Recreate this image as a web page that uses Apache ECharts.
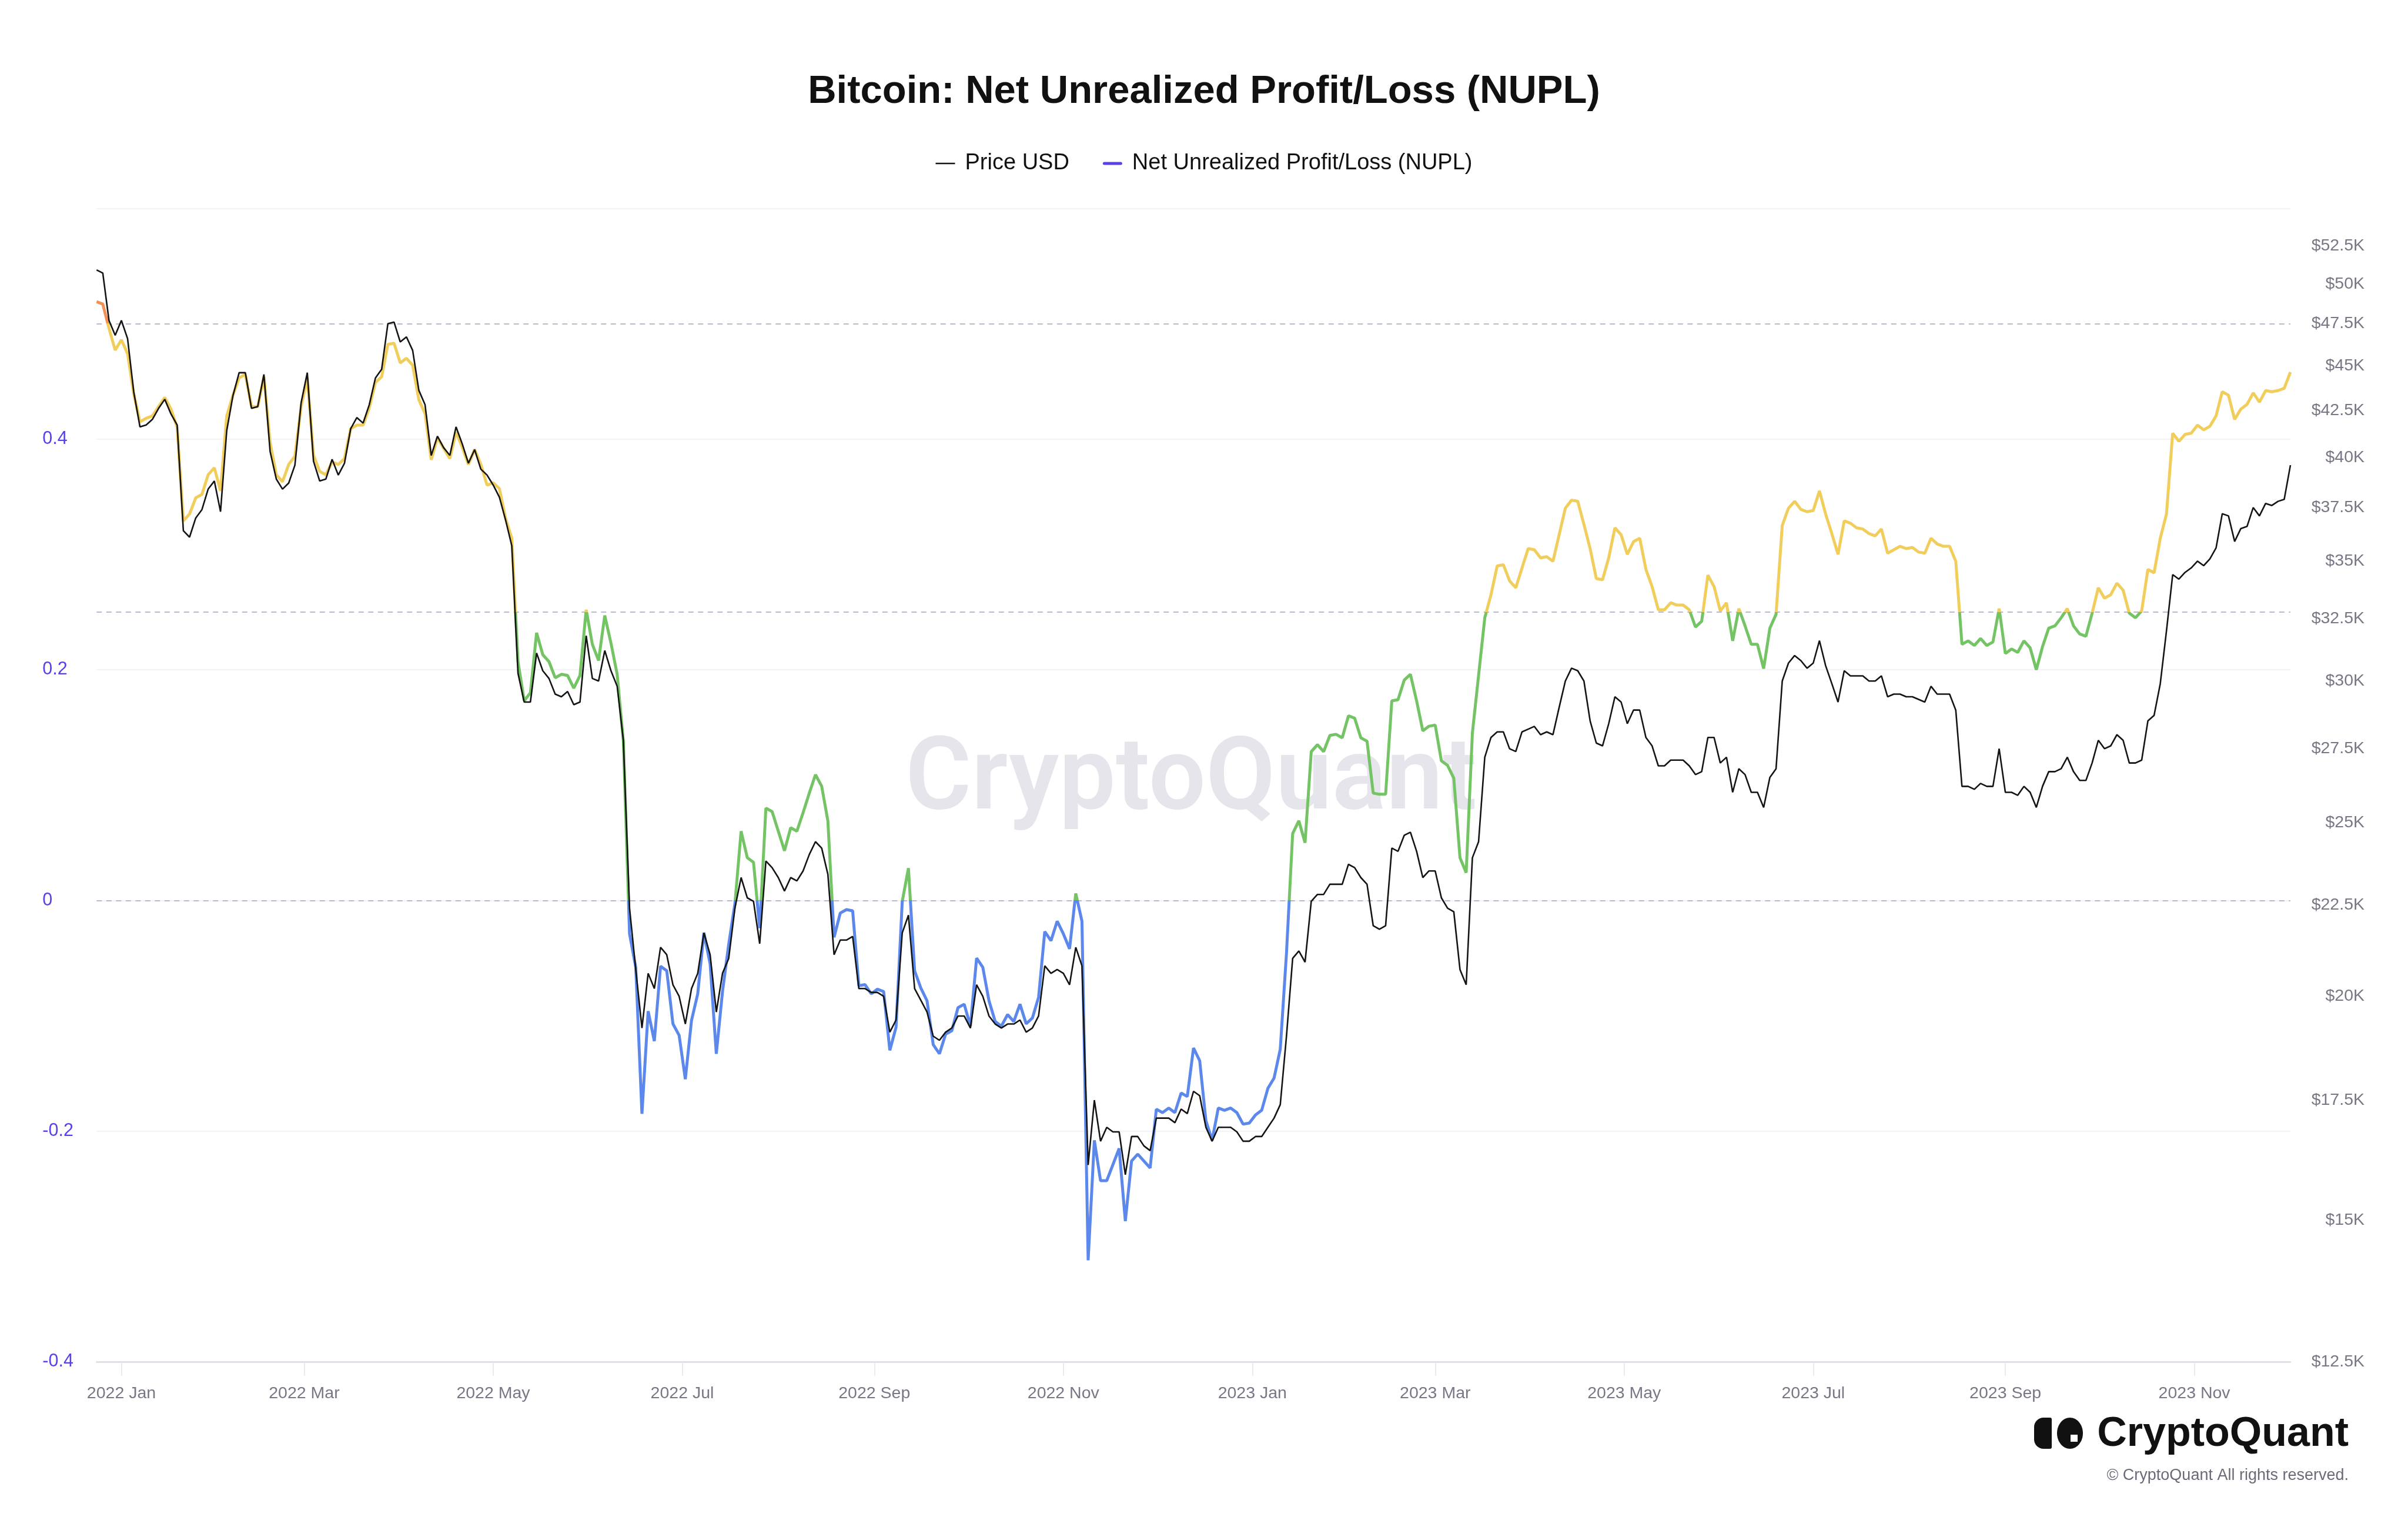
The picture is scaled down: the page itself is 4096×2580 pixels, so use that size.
<!DOCTYPE html>
<html><head><meta charset="utf-8">
<script src="https://cdn.jsdelivr.net/npm/echarts@6/dist/echarts.min.js"></script>
<style>html,body{margin:0;padding:0;background:#fff}#c{width:4096px;height:2580px}</style>
</head><body><div id="c"></div>
<script>
// ---- data (sampled every 2 days from 2021-12-24 to 2023-12-02) ----
const firstDay = [2021, 11, 24];
const stepDays = 2;
const priceUSD = [
50900,50700,47700,46800,47700,46600,43500,41600,41700,42000,42600,43100,42300,41700,36400,36100,37000,37400,38400,38800,
37300,41400,43300,44600,44600,42600,42700,44500,40300,38900,38400,38700,39600,42900,44600,39800,38800,38900,39900,39100,
39700,41500,42100,41800,42800,44300,44800,47500,47600,46400,46700,45900,43600,42800,40100,41100,40500,40100,41600,40700,
39700,
40400,39400,39100,38600,38000,36900,35700,30300,29200,29200,31100,30400,30100,29500,29400,29600,29100,29200,31800,30100,
30000,31200,30400,29800,27800,22400,20700,19200,20600,20200,21300,21100,20300,20000,19300,20200,20600,21700,21100,19600,
20600,21000,22400,23300,22700,22600,21400,23800,23600,23300,22900,23300,23200,23500,24000,24400,24200,23400,21100,21500,
21500,21600,20200,20200,20100,20100,20000,19100,19400,21700,22200,20200,19900,19600,19000,18900,19100,19200,19500,19500,
19200,20300,20000,19500,19300,19200,19300,19300,19400,19100,19200,19500,20800,20600,20700,20600,20300,21300,20800,16100,
17500,16600,16900,16800,16800,15900,16700,16700,16500,16400,17100,17100,17100,17000,17300,17200,17700,17600,16900,16600,
16900,16900,16900,16800,16600,16600,16700,16700,16900,17100,17400,19000,21000,21200,20900,22600,22800,22800,23100,23100,
23100,23700,23600,23300,23100,21900,21800,21900,24200,24100,24600,24700,24100,23300,23500,23500,22700,22400,22300,20700,
20300,23900,24400,27200,27900,28100,28100,27500,27400,28100,28200,28300,28000,28100,28000,29000,30000,30500,30400,
30000,28500,27700,27600,28400,29400,29200,28400,28900,28900,27900,27600,26900,26900,27100,27100,27100,26900,26600,26700,
27900,27900,27000,27200,26000,26800,26600,26000,26000,25500,26500,26800,30000,30700,31000,30800,30500,30700,31600,30600,
29900,29200,30400,30200,30200,30200,30000,30000,30200,29400,29500,29500,29400,29400,29300,29200,29800,29500,29500,29500,
28900,26200,26200,26100,26300,26200,26200,27500,26000,26000,25900,26200,26000,25500,26200,26700,26700,26800,27200,26700,
26400,26400,27000,27800,27500,27600,28000,27800,27000,27000,27100,28500,28700,29900,32000,34400,34200,34500,34700,35000,
34800,35100,35600,37200,37100,35900,36500,36600,37500,37100,37700,37600,37800,37900,39600
];
const nupl = [
0.519,0.517,0.496,0.477,0.486,0.474,0.439,0.415,0.418,0.420,0.428,0.436,0.426,0.410,0.329,0.335,0.349,0.352,0.369,0.375,
0.355,0.420,0.438,0.453,0.456,0.428,0.428,0.454,0.397,0.369,0.363,0.378,0.385,0.428,0.453,0.386,0.372,0.369,0.380,0.378,
0.383,0.409,0.412,0.412,0.427,0.449,0.454,0.482,0.483,0.466,0.470,0.464,0.434,0.422,0.382,0.401,0.392,0.383,0.406,0.393,
0.378,
0.391,0.378,0.360,0.362,0.357,0.331,0.314,0.207,0.173,0.180,0.232,0.213,0.207,0.193,0.196,0.195,0.184,0.195,0.252,0.222,
0.208,0.247,0.223,0.196,0.138,-0.029,-0.058,-0.185,-0.096,-0.122,-0.057,-0.061,-0.107,-0.117,-0.155,-0.104,-0.081,-0.028,-0.055,-0.133,
-0.079,-0.038,-0.003,0.060,0.037,0.033,-0.024,0.080,0.077,0.060,0.043,0.063,0.060,0.076,0.093,0.109,0.099,0.069,-0.032,-0.011,
-0.008,-0.009,-0.074,-0.073,-0.081,-0.077,-0.079,-0.130,-0.110,-0.001,0.028,-0.061,-0.076,-0.087,-0.125,-0.133,-0.116,-0.113,-0.093,-0.090,
-0.109,-0.050,-0.058,-0.087,-0.105,-0.109,-0.099,-0.105,-0.090,-0.107,-0.102,-0.084,-0.027,-0.035,-0.018,-0.029,-0.042,0.006,-0.018,-0.312,
-0.208,-0.243,-0.243,-0.229,-0.215,-0.278,-0.226,-0.220,-0.226,-0.232,-0.181,-0.184,-0.180,-0.184,-0.167,-0.170,-0.128,-0.139,-0.191,-0.208,
-0.180,-0.182,-0.180,-0.184,-0.194,-0.193,-0.186,-0.182,-0.163,-0.154,-0.129,-0.046,0.058,0.069,0.050,0.129,0.135,0.129,0.143,0.144,
0.141,0.160,0.158,0.141,0.138,0.093,0.092,0.092,0.173,0.174,0.191,0.196,0.173,0.147,0.151,0.152,0.121,0.117,0.106,0.037,
0.024,0.145,0.195,0.245,0.265,0.290,0.291,0.277,0.271,0.288,0.305,0.304,0.297,0.298,0.294,0.317,0.340,0.347,0.346,
0.326,0.305,0.279,0.278,0.297,0.323,0.317,0.300,0.311,0.314,0.287,0.272,0.252,0.252,0.258,0.256,0.256,0.252,0.237,0.242,
0.282,0.272,0.251,0.258,0.225,0.253,0.238,0.222,0.222,0.201,0.236,0.248,0.325,0.340,0.346,0.339,0.337,0.338,0.355,0.335,
0.318,0.300,0.329,0.327,0.323,0.322,0.318,0.316,0.322,0.301,0.304,0.307,0.305,0.306,0.302,0.301,0.314,0.309,0.307,0.307,
0.294,0.222,0.225,0.221,0.227,0.221,0.224,0.253,0.214,0.218,0.215,0.225,0.219,0.200,0.220,0.236,0.238,0.245,0.253,0.238,
0.231,0.229,0.249,0.271,0.262,0.265,0.275,0.269,0.249,0.245,0.251,0.287,0.284,0.314,0.335,0.405,0.398,0.404,0.405,0.412,
0.408,0.411,0.420,0.441,0.438,0.417,0.426,0.430,0.440,0.432,0.442,0.441,0.442,0.444,0.458
];
const priceTicks = [12500,15000,17500,20000,22500,25000,27500,30000,32500,35000,37500,40000,42500,45000,47500,50000,52500];
const monthTicks = ['2022-01','2022-03','2022-05','2022-07','2022-09','2022-11','2023-01','2023-03','2023-05','2023-07','2023-09','2023-11'];
const nuplLevels = [0.5, 0.25, 0];
const monthNames = ['Jan','Feb','Mar','Apr','May','Jun','Jul','Aug','Sep','Oct','Nov','Dec'];

// ---- build ----
const dates = priceUSD.map((_, i) => Date.UTC(firstDay[0], firstDay[1], firstDay[2] + stepDays * i));
const tickTs = monthTicks.map(s => Date.UTC(+s.slice(0, 4), +s.slice(5) - 1, 1));
const priceMin = 12500, priceMax = 55100;
const FONT = '"Liberation Sans", Arial, Helvetica, sans-serif';
const NUPL_COLOR = '#5641eb';

const chart = echarts.init(document.getElementById('c'), null, {renderer: 'canvas'});
chart.setOption({
  animation: false,
  backgroundColor: '#ffffff',
  textStyle: {fontFamily: FONT},
  title: {
    text: 'Bitcoin: Net Unrealized Profit/Loss (NUPL)',
    left: 'center', top: 118,
    textStyle: {fontSize: 67, fontWeight: 'bold', color: '#111111', fontFamily: FONT}
  },
  legend: {
    top: 254, left: 'center',
    itemWidth: 33, itemHeight: 12, itemGap: 57,
    symbolKeepAspect: true,
    textStyle: {fontSize: 38, color: '#111111', fontFamily: FONT, padding: [0, 0, 0, 12]},
    data: [
      {name: 'Price USD', icon: 'path://M0,0H33V2.6H0Z'},
      {name: 'Net Unrealized Profit/Loss (NUPL)', icon: 'path://M2.5,0H30.5A2.5,2.5,0,0,1,30.5,5H2.5A2.5,2.5,0,0,1,2.5,0Z'}
    ]
  },
  grid: {left: 164.3, right: 200, top: 354.3, bottom: 264, containLabel: false},
  visualMap: {
    type: 'piecewise', show: false, seriesIndex: 1, dimension: 1,
    pieces: [
      {lt: 0, color: '#5b88ea'},
      {gte: 0, lt: 0.25, color: '#74c365'},
      {gte: 0.25, lt: 0.5, color: '#f1cd5b'},
      {gte: 0.5, color: '#f39153'}
    ]
  },
  xAxis: {
    type: 'value', min: dates[0], max: dates[dates.length - 1],
    axisLine: {show: true, onZero: false, lineStyle: {color: '#dcdce6', width: 2.5}},
    axisTick: {show: true, customValues: tickTs, length: 24, lineStyle: {color: '#e4e4ec', width: 1.5}},
    axisLabel: {
      customValues: tickTs, fontSize: 28.5, color: '#777786', margin: 40, fontFamily: FONT,
      formatter: v => { const d = new Date(v); return d.getUTCFullYear() + ' ' + monthNames[d.getUTCMonth()]; }
    },
    splitLine: {show: false}
  },
  yAxis: [
    {
      type: 'value', position: 'left', min: -0.4, max: 0.6, interval: 0.2,
      axisLine: {show: false}, axisTick: {show: false},
      splitLine: {show: true, lineStyle: {color: '#efeff4', width: 1.5}},
      axisLabel: {color: NUPL_COLOR, fontSize: 30.5, align: 'left', margin: 92, showMaxLabel: false, fontFamily: FONT}
    },
    {
      type: 'log', position: 'right', min: priceMin, max: priceMax, show: false,
      splitLine: {show: false}
    },
    {
      type: 'value', position: 'right', min: Math.log(priceMin), max: Math.log(priceMax),
      axisLine: {show: false}, axisTick: {show: false}, splitLine: {show: false},
      axisLabel: {
        customValues: priceTicks.map(v => Math.log(v)),
        formatter: v => '$' + (Math.round(Math.exp(v) / 100) / 10) + 'K',
        align: 'right', margin: 126, fontSize: 28.5, color: '#777786', fontFamily: FONT
      }
    }
  ],
  series: [
    {
      name: 'Price USD', type: 'line', yAxisIndex: 1, z: 4,
      data: dates.map((t, i) => [t, priceUSD[i]]),
      symbol: 'none', color: '#141414',
      lineStyle: {color: '#141414', width: 2.6}
    },
    {
      name: 'Net Unrealized Profit/Loss (NUPL)', type: 'line', yAxisIndex: 0, z: 3,
      data: dates.map((t, i) => [t, nupl[i]]),
      symbol: 'none', color: NUPL_COLOR,
      lineStyle: {width: 5},
      markLine: {
        silent: true, symbol: 'none', label: {show: false}, z: 1,
        lineStyle: {type: [9, 7.5], color: '#b9b9cc', width: 1.8},
        data: nuplLevels.map(v => ({yAxis: v}))
      }
    }
  ],
  graphic: [
    {type: 'text', x: 2026, y: 1332, z: 0, silent: true,
     style: {text: 'CryptoQuant', fontSize: 172, fontWeight: 600, fontFamily: 'Roboto, "Liberation Sans", sans-serif',
             fill: '#e5e5eb', textAlign: 'center', textVerticalAlign: 'middle'}},
    {type: 'rect', z: 10, shape: {x: 3460, y: 2411, width: 30, height: 53, r: [16, 3, 3, 16]}, style: {fill: '#111111'}},
    {type: 'ellipse', z: 10, shape: {cx: 3521, cy: 2437.5, rx: 22, ry: 26.5}, style: {fill: '#111111'}},
    {type: 'rect', z: 11, shape: {x: 3522, y: 2440, width: 12, height: 12}, style: {fill: '#ffffff'}},
    {type: 'text', z: 10, x: 3995, y: 2440,
     style: {text: 'CryptoQuant', fontSize: 70, fontWeight: 'bold', fontFamily: FONT, fill: '#111111',
             textAlign: 'right', textVerticalAlign: 'middle'}},
    {type: 'text', z: 10, x: 3995, y: 2510,
     style: {text: '\u00a9 CryptoQuant All rights reserved.', fontSize: 27, fontFamily: FONT, fill: '#6b6b78',
             textAlign: 'right', textVerticalAlign: 'middle'}}
  ]
});
</script></body></html>
